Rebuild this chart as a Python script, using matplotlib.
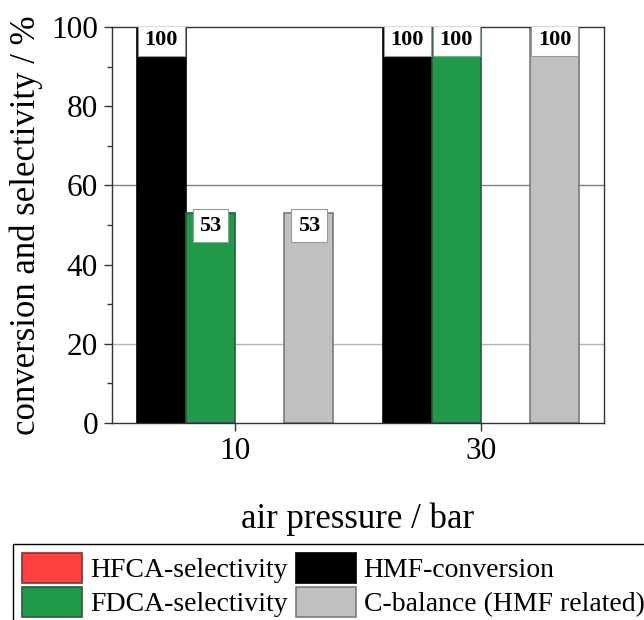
import matplotlib
matplotlib.use("Agg")
import matplotlib.pyplot as plt
import numpy as np
from matplotlib.ticker import MultipleLocator
from matplotlib.patches import Patch

# Reaction results at two air pressures
pressures = ["10", "30"]
hmf_conversion = [100, 100]
fdca_selectivity = [53, 100]
hfca_selectivity = [0, 0]
c_balance = [53, 100]

plt.rcParams["font.family"] = ["Liberation Serif", "DejaVu Serif"]

fig = plt.figure(figsize=(6.44, 6.20), dpi=100)
ax = fig.add_axes([112 / 644, 1 - 423 / 620, 492 / 644, 396 / 620])

x = np.arange(len(pressures))
w = 0.2

series = [
    (hmf_conversion, -1.5, "#000000", "#000000", "HMF-conversion"),
    (fdca_selectivity, -0.5, "#209a48", "#2a5a3a", "FDCA-selectivity"),
    (hfca_selectivity, 0.5, "#ff4040", "#8a3030", "HFCA-selectivity"),
    (c_balance, 1.5, "#c0c0c0", "#7a7a7a", "C-balance (HMF related)"),
]

handles = {}
for vals, off, fc, ec, name in series:
    edge = [ec if v > 0 else "none" for v in vals]
    ax.bar(x + off * w, vals, w, color=fc, edgecolor=edge,
           linewidth=1.2, zorder=2)
    handles[name] = Patch(facecolor=fc, edgecolor=ec, linewidth=1.2)
    for xi, v in zip(x + off * w, vals):
        if v > 0:
            ax.text(xi, v - 3.2, f"{v}", ha="center", va="center",
                    fontsize=16, fontweight="bold", zorder=4, clip_on=True,
                    bbox=dict(boxstyle="square,pad=0.3", fc="white",
                              ec="#9a9a9a", lw=0.8))

# Reference lines
ax.axhline(60, color="#808080", lw=1.0, zorder=0.5)
ax.axhline(20, color="#b4b4b4", lw=1.0, zorder=0.5)

ax.set_xlim(-0.5, 1.5)
ax.set_ylim(0, 100)
ax.set_xticks(x)
ax.set_xticklabels(pressures)
ax.yaxis.set_major_locator(MultipleLocator(20))
ax.yaxis.set_minor_locator(MultipleLocator(10))
ax.tick_params(axis="both", which="major", labelsize=22.5, length=6,
               width=1, direction="out", color="#333333", pad=4)
ax.tick_params(axis="y", which="minor", length=3.5, width=1,
               direction="out", color="#333333")
ax.tick_params(axis="x", which="minor", bottom=False)
for s in ax.spines.values():
    s.set_color("#333333")
    s.set_linewidth(1.0)
    s.set_zorder(3)

ax.set_xlabel("air pressure / bar", fontsize=25, labelpad=26)
ax.set_ylabel("conversion and selectivity / %", fontsize=25, labelpad=6)

order = ["HFCA-selectivity", "FDCA-selectivity", "HMF-conversion",
         "C-balance (HMF related)"]
leg = fig.legend([handles[n] for n in order], order,
                 loc="upper left", bbox_to_anchor=(13 / 644, 1 - 544 / 620),
                 ncol=2, fontsize=20, frameon=True, fancybox=False,
                 edgecolor="#000000", framealpha=1, borderaxespad=0,
                 borderpad=0.32, handlelength=2.16, handleheight=1.3,
                 handletextpad=0.29, columnspacing=0.29, labelspacing=0.12)
leg.get_frame().set_linewidth(1.0)

fig.savefig("out.png", dpi=100)
